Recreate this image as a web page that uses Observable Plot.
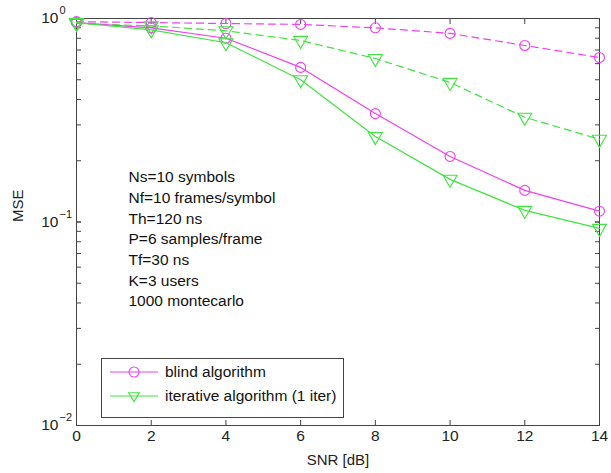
<!DOCTYPE html>
<html><head><meta charset="utf-8">
<script src="https://cdn.jsdelivr.net/npm/d3@7"></script>
<script src="https://cdn.jsdelivr.net/npm/@observablehq/plot@0.6"></script>
<style>
body{margin:0;background:#fff;font-family:"Liberation Sans",Arial,sans-serif}
#wrap{position:relative;width:611px;height:473px}
#legend{position:absolute;left:101px;top:358px;width:241px;height:58px;border:1px solid #444;background:#fff;font-size:15.5px;color:#111}
#legend .row{position:absolute;left:0;height:20px;display:flex;align-items:center}
#legend svg{display:block}
</style>
</head><body><div id="wrap"></div>
<script>
// ---- data ----
const snr = [0, 2, 4, 6, 8, 10, 12, 14];
const blindSolid     = [0.955, 0.90, 0.80, 0.575, 0.341, 0.21, 0.143, 0.113];
const iterSolid      = [0.955, 0.88, 0.76, 0.50, 0.263, 0.162, 0.114, 0.093];
const blindDashed    = [0.965, 0.955, 0.945, 0.935, 0.90, 0.845, 0.737, 0.643];
const iterDashed     = [0.945, 0.92, 0.87, 0.78, 0.636, 0.485, 0.327, 0.255];
const seriesNames = ["blind algorithm", "iterative algorithm (1 iter)"];
const yTickDecades = [1, 0.1, 0.01];
const yTickExponents = ["0", "\u22121", "\u22122"];
const annotation = ["Ns=10 symbols", "Nf=10 frames/symbol", "Th=120 ns", "P=6 samples/frame", "Tf=30 ns", "K=3 users", "1000 montecarlo"];
const xLabel = "SNR [dB]";
const yLabel = "MSE";

const magenta = "#f040f0";
const green = "#40e440";

function rows(vals, algo, dashed) {
  return snr.map((s, i) => ({snr: s, mse: vals[i], algo, dashed}));
}
const series = [
  {vals: blindDashed, algo: seriesNames[0], dashed: true, color: magenta, symbol: "circle"},
  {vals: iterDashed, algo: seriesNames[1], dashed: true, color: green, symbol: "triangle"},
  {vals: blindSolid, algo: seriesNames[0], dashed: false, color: magenta, symbol: "circle"},
  {vals: iterSolid, algo: seriesNames[1], dashed: false, color: green, symbol: "triangle"}
];

const minorTicks = [];
for (const d of [0.01, 0.1]) for (let k = 1; k <= 10; k++) minorTicks.push(+(d * k).toPrecision(3));

const marks = [];
for (const s of series) {
  const data = rows(s.vals, s.algo, s.dashed);
  marks.push(Plot.line(data, {x: "snr", y: "mse", stroke: s.color, strokeWidth: 1.2, strokeDasharray: s.dashed ? "7,5" : null}));
  marks.push(Plot.dot(data, {x: "snr", y: "mse", stroke: s.color, fill: "none", strokeWidth: 1.1, symbol: s.symbol, r: s.symbol === "circle" ? 5 : 5.2, rotate: s.symbol === "triangle" ? 180 : 0}));
}

const chart = Plot.plot({
  width: 611,
  height: 473,
  marginLeft: 76,
  marginRight: 12,
  marginTop: 18,
  marginBottom: 48,
  style: {fontFamily: "Liberation Sans, Arial, sans-serif", fontSize: "13px", color: "#222", background: "#fff"},
  x: {domain: [0, 14], label: null},
  y: {type: "log", domain: [0.01, 1], label: null},
  marks: [
    Plot.frame({stroke: "#444", strokeWidth: 1}),
    Plot.axisX({anchor: "bottom", ticks: snr, tickSize: -5, tickFormat: () => "", stroke: "#444", label: null}),
    Plot.axisX({anchor: "top", ticks: snr, tickSize: -5, tickFormat: () => "", stroke: "#444", label: null}),
    Plot.axisY({anchor: "left", ticks: minorTicks, tickSize: -5, tickFormat: () => "", stroke: "#444", label: null}),
    Plot.axisY({anchor: "right", ticks: minorTicks, tickSize: -5, tickFormat: () => "", stroke: "#444", label: null}),
    Plot.text(snr, {x: d => d, text: d => String(d), frameAnchor: "bottom", dy: 15, fontSize: 15.5, fill: "#222"}),
    Plot.text([xLabel], {text: d => d, frameAnchor: "bottom", dy: 39, fontSize: 15, fill: "#222"}),
    Plot.text([yLabel], {text: d => d, frameAnchor: "left", dx: -58, rotate: -90, fontSize: 15, fill: "#222"}),
    Plot.text(yTickDecades, {y: d => d, text: () => "10", frameAnchor: "left", dx: -18, textAnchor: "end", fontSize: 15.5, fill: "#222"}),
    Plot.text(yTickDecades, {y: d => d, text: (d, i) => yTickExponents[i], frameAnchor: "left", dx: -17, dy: -8, textAnchor: "start", fontSize: 11, fill: "#222"}),
    Plot.text([annotation.join("\n")], {text: d => d, frameAnchor: "top-left", dx: 52, dy: 149, lineHeight: 1.335, textAnchor: "start", fontSize: 15.5, fill: "#111"}),
    ...marks
  ]
});

const wrap = document.getElementById("wrap");
wrap.appendChild(chart);

// legend
const legend = document.createElement("div");
legend.id = "legend";
const sym = {
  circle: c => `<circle cx="24" cy="10" r="5" fill="none" stroke="${c}" stroke-width="1.1"/>`,
  triangle: c => `<path d="M18.6,6.8 L29.4,6.8 L24,15.6 Z" fill="none" stroke="${c}" stroke-width="1.1"/>`
};
[[seriesNames[0], magenta, "circle"], [seriesNames[1], green, "triangle"]].forEach(([name, c, s], i) => {
  const row = document.createElement("div");
  row.className = "row";
  row.style.top = (3 + i * 24) + "px";
  row.innerHTML = `<svg width="62" height="20" style="margin-left:8px"><line x1="0" y1="10" x2="48" y2="10" stroke="${c}" stroke-width="1.2"/>${sym[s](c)}</svg><span style="margin-left:-7px">${name}</span>`;
  legend.appendChild(row);
});
wrap.appendChild(legend);
</script>
</body></html>
